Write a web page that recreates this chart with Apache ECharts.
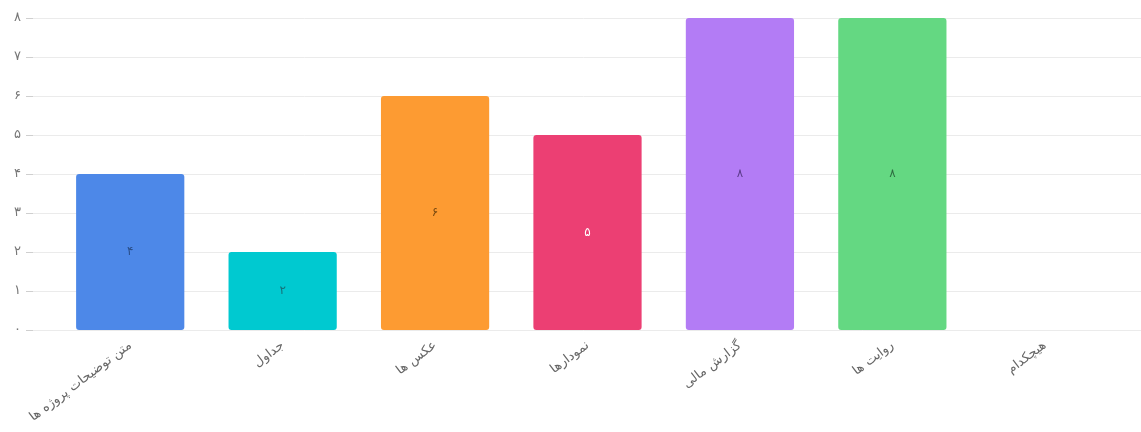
<!DOCTYPE html>
<html><head><meta charset="utf-8">
<script src="https://cdn.jsdelivr.net/npm/echarts@6/dist/echarts.min.js"></script>
<style>html,body{margin:0;padding:0;background:#fff}#c{width:1141px;height:432px}</style>
</head><body><div id="c"></div>
<script>
const categories = ['متن توضیحات پروژه ها','جداول','عکس ها','نمودارها','گزارش مالی','روایت ها','هیچکدام'];
const values = [4, 2, 6, 5, 8, 8, 0];
const colors = ['#4d88e8','#00c9d0','#fd9b32','#ec3f73','#b37cf5','#64d882','#999999'];
const labelColors = ['#2a4f8a','#16727a','#7a4a10','#ffffff','#5a3a8a','#2d6a3f','#333'];
const yTickLabels = ['۰','۱','۲','۳','۴','۵','۶','۷','۸'];
const faDigits = '۰۱۲۳۴۵۶۷۸۹';
const toFa = v => String(v).replace(/\d/g, d => faDigits[d]);

const font = 'DejaVu Sans';
const chart = echarts.init(document.getElementById('c'));
chart.setOption({
  animation: false,
  textStyle: { fontFamily: font },
  grid: [
    { left: 54, right: 20, top: 18, bottom: 102 },
    { left: 26, right: 0, top: 18, bottom: 102 }
  ],
  xAxis: [
    { type: 'category', gridIndex: 0, data: categories,
      axisLine: { show: false }, axisTick: { show: false },
      axisLabel: { rotate: 37, color: '#666', fontSize: 13, margin: 14, fontFamily: font, interval: 0 } },
    { type: 'value', gridIndex: 1, show: false, min: 0, max: 1 }
  ],
  yAxis: [
    { type: 'value', gridIndex: 0, min: 0, max: 8, interval: 1,
      axisLine: { show: false }, axisTick: { show: false }, splitLine: { show: false },
      axisLabel: { show: false } },
    { type: 'value', gridIndex: 1, min: 0, max: 8, interval: 1,
      axisLine: { show: false },
      axisTick: { show: true, inside: true, length: 7, lineStyle: { color: '#cfcfcf' } },
      splitLine: { show: true, lineStyle: { color: '#ebebeb', width: 1 } },
      axisLabel: { color: '#777', fontSize: 13, margin: 5, fontFamily: font,
        formatter: v => yTickLabels[v] } }
  ],
  series: [{
    type: 'bar', xAxisIndex: 0, yAxisIndex: 0,
    barCategoryGap: '29%',
    data: values.map((v, i) => ({
      value: v,
      itemStyle: { color: colors[i], borderRadius: 3 },
      label: { color: labelColors[i] }
    })),
    label: { show: true, position: 'inside', fontSize: 12, fontFamily: font,
      formatter: p => p.value ? toFa(p.value) : '' }
  }]
});
</script></body></html>
